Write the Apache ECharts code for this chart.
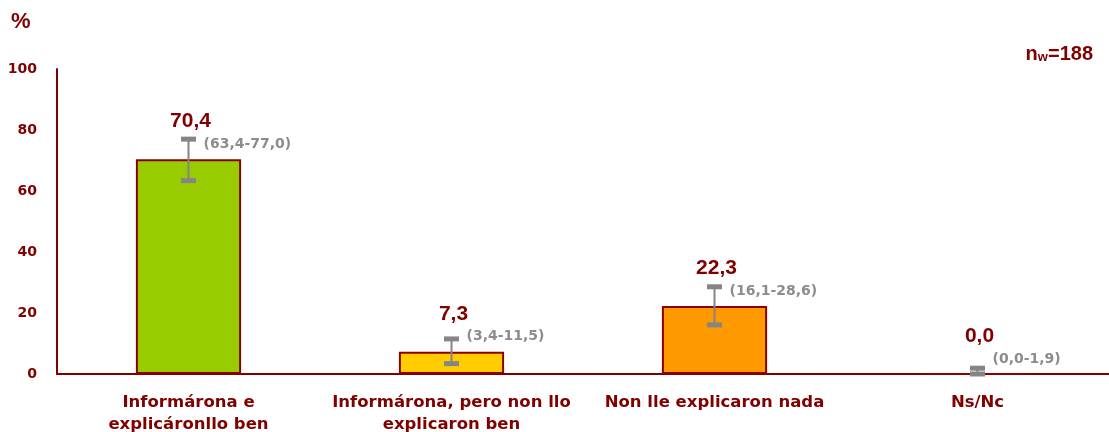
<!DOCTYPE html>
<html><head><meta charset="utf-8">
<script src="https://cdn.jsdelivr.net/npm/echarts@6/dist/echarts.min.js"></script>
<style>html,body{margin:0;padding:0;background:#fff}#c{width:1109px;height:432px}</style>
</head><body><div id="c"></div>
<script>
const categories = ["Informárona e\nexplicáronllo ben", "Informárona, pero non llo\nexplicaron ben", "Non lle explicaron nada", "Ns/Nc"];
const values = [70.4, 7.3, 22.3, 0.0];
const lower = [63.4, 3.4, 16.1, 0.0];
const upper = [77.0, 11.5, 28.6, 1.9];
const barColors = ["#99CC00", "#FFCC00", "#FF9900", "#BFBFBF"];
const yTicks = [0, 20, 40, 60, 80, 100];
const sampleSize = 188;

const RED = "#800000";
const fmt = v => v.toFixed(1).replace(".", ",");

const chart = echarts.init(document.getElementById("c"));
chart.setOption({
  animation: false,
  grid: {left: 57, right: 0, top: 69, bottom: 58, containLabel: false, outerBoundsMode: "none"},
  xAxis: {
    type: "category", data: categories,
    axisLine: {lineStyle: {color: RED, width: 2}},
    axisTick: {show: false},
    axisLabel: {color: RED, fontFamily: "DejaVu Sans", fontWeight: "bold", fontSize: 16.5, lineHeight: 22, margin: 18, interval: 0}
  },
  yAxis: {
    type: "value", min: yTicks[0], max: yTicks[yTicks.length - 1], interval: 20,
    axisLine: {show: true, lineStyle: {color: RED, width: 2}},
    axisTick: {show: false},
    splitLine: {show: false},
    axisLabel: {color: RED, fontFamily: "DejaVu Sans", fontWeight: "bold", fontSize: 14, margin: 20}
  },
  series: [
    {
      type: "bar", barWidth: "40%",
      data: values.map((v, i) => ({value: v, itemStyle: {color: barColors[i]}})),
      itemStyle: {borderColor: "#8B0000", borderWidth: 2}
    },
    {
      type: "custom",
      data: values.map((v, i) => [i, lower[i], upper[i], v]),
      z: 10,
      renderItem: function (params, api) {
        const x = api.coord([api.value(0), 0])[0];
        const yl = api.coord([api.value(0), api.value(1)])[1];
        const yu = api.coord([api.value(0), api.value(2)])[1];
        const v = api.value(3);
        const yb = api.coord([api.value(0), v])[1];
        const grey = "#858585";
        return {
          type: "group",
          children: [
            {type: "line", shape: {x1: x, y1: yl, x2: x, y2: yu}, style: {stroke: grey, lineWidth: 2}},
            {type: "rect", shape: {x: x - 7.5, y: yu - 2.5, width: 15, height: 5}, style: {fill: grey}},
            {type: "rect", shape: {x: x - 7.5, y: yl - 2.5, width: 15, height: 5}, style: {fill: grey}},
            {type: "text", style: {x: x + 15, y: yb - 15, text: "(" + fmt(api.value(1)) + "-" + fmt(api.value(2)) + ")",
              fill: "#8C8C8C", font: "bold 14px 'DejaVu Sans'", textAlign: "left", textVerticalAlign: "middle"}},
            {type: "text", style: {x: x + 2, y: yb - 38, text: fmt(v),
              fill: RED, font: "bold 21px 'Liberation Sans'", textAlign: "center", textVerticalAlign: "middle"}}
          ]
        };
      }
    }
  ],
  graphic: [
    {type: "text", left: 11, top: 11, style: {text: "%", fill: RED, font: "bold 22px 'Liberation Sans'"}},
    {type: "text", right: 16, top: 44, style: {
      text: "{n|n}{s|w}{n|=" + sampleSize + "}",
      rich: {
        n: {fill: RED, font: "bold 20px 'Liberation Sans'", verticalAlign: "bottom"},
        s: {fill: RED, font: "bold 13px 'Liberation Sans'", padding: [10, 0, 0, 0], verticalAlign: "bottom"}
      }
    }}
  ]
});
</script></body></html>
